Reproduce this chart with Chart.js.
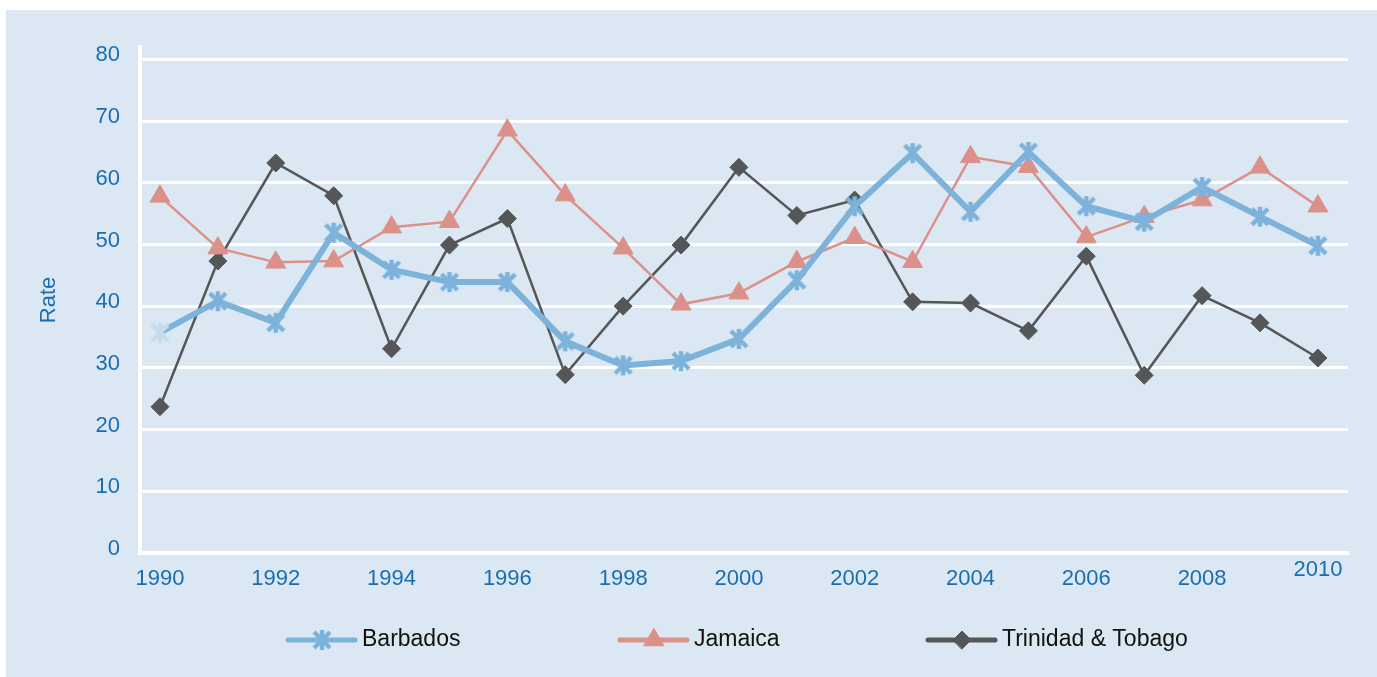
<!DOCTYPE html>
<html>
<head>
<meta charset="utf-8">
<script src="https://cdn.jsdelivr.net/npm/chart.js@4.4.1/dist/chart.umd.min.js"></script>
<style>
    html, body { margin: 0; padding: 0; background: #ffffff; }
    #panel { position: absolute; left: 6px; top: 10px; width: 1371px; height: 667px; background: #dbe8f3; }
</style>
</head>
<body>
<div id="panel"><canvas id="rates"></canvas></div>
<script>
// valeurs
const years = [1990, 1991, 1992, 1993, 1994, 1995, 1996, 1997, 1998, 1999, 2000,
               2001, 2002, 2003, 2004, 2005, 2006, 2007, 2008, 2009, 2010];
const barbados = [35.7, 40.8, 37.3, 51.9, 45.9, 43.9, 43.9, 34.3, 30.4, 31.1, 34.7,
                  44.2, 56.2, 64.8, 55.3, 65.0, 56.2, 53.7, 59.3, 54.5, 49.8];
const jamaica = [57.8, 49.4, 47.1, 47.3, 52.8, 53.7, 68.5, 58.0, 49.4, 40.3, 42.1,
                 47.2, 51.1, 47.2, 64.2, 62.6, 51.2, 54.5, 57.2, 62.5, 56.2];
const trinidad = [23.7, 47.3, 63.2, 57.9, 33.1, 49.9, 54.2, 28.9, 40.0, 49.9, 62.5,
                  54.7, 57.2, 40.7, 40.5, 36.0, 48.1, 28.8, 41.7, 37.3, 31.6];
const yearTicks = [1990, 1992, 1994, 1996, 1998, 2000, 2002, 2004, 2006, 2008, 2010];
const yTicks = [0, 10, 20, 30, 40, 50, 60, 70, 80];

const blueText = '#1a6db3';
const fontFamily = '"Liberation Sans", Arial, sans-serif';

function points(values) {
    return years.map((yr, i) => ({ x: yr, y: values[i] }));
}

// astérisque façon Excel : un X et un trait vertical
function asterisk(color) {
    const c = document.createElement('canvas');
    c.width = 24; c.height = 24;
    const g = c.getContext('2d');
    g.strokeStyle = color;
    g.lineWidth = 4.5;
    g.beginPath();
    g.moveTo(12, 2); g.lineTo(12, 22);
    g.moveTo(4, 4); g.lineTo(20, 20);
    g.moveTo(20, 4); g.lineTo(4, 20);
    g.stroke();
    return c;
}
const starMain = asterisk('#7db3da');
const starPale = asterisk('#c4dcee');

// légende dessinée sous le graphique (trait + marqueur), et le "2010" surélevé
const legendBelow = {
    id: 'legendBelow',
    afterDraw(chart) {
        const ctx = chart.ctx;
        const starts = [282, 614, 922];
        const y = 630;
        chart.data.datasets.forEach((ds, i) => {
            const x = starts[i];
            ctx.save();
            ctx.strokeStyle = ds.borderColor;
            ctx.fillStyle = ds.borderColor;
            ctx.lineWidth = 5;
            ctx.lineCap = 'round';
            ctx.beginPath();
            ctx.moveTo(x, y);
            ctx.lineTo(x + 67, y);
            ctx.stroke();
            ctx.lineWidth = ds.pointBorderWidth;
            const style = Array.isArray(ds.pointStyle) ? ds.pointStyle[1] : ds.pointStyle;
            Chart.helpers.drawPoint(ctx, {
                pointStyle: style,
                radius: ds.pointRadius,
                borderWidth: ds.pointBorderWidth,
                rotation: 0
            }, x + 34, y);
            ctx.fillStyle = '#111111';
            ctx.font = '23px ' + fontFamily;
            ctx.textBaseline = 'middle';
            ctx.textAlign = 'left';
            ctx.fillText(ds.label, x + 74, y);
            ctx.restore();
        });
        // le dernier libellé de l'axe est plus haut sur l'original
        const xs = chart.scales.x;
        ctx.save();
        ctx.fillStyle = blueText;
        ctx.font = '22px ' + fontFamily;
        ctx.textAlign = 'center';
        ctx.textBaseline = 'middle';
        ctx.fillText(String(years[years.length - 1]), xs.getPixelForValue(years[years.length - 1]), 560);
        ctx.restore();
    }
};

document.addEventListener('DOMContentLoaded', () => {
    const ctx = document.getElementById('rates').getContext('2d');
    new Chart(ctx, {
        type: 'line',
        data: {
            datasets: [{
                label: 'Barbados',
                data: points(barbados),
                borderColor: '#7db3da',
                backgroundColor: '#7db3da',
                borderWidth: 6,
                pointStyle: years.map((yr, i) => i === 0 ? starPale : starMain),
                pointRadius: 10,
                pointBorderWidth: 4,
                tension: 0
            }, {
                label: 'Jamaica',
                data: points(jamaica),
                borderColor: '#db9189',
                backgroundColor: '#db9189',
                borderWidth: 2.5,
                pointStyle: 'triangle',
                pointRadius: 11.5,
                pointBorderWidth: 1,
                tension: 0
            }, {
                label: 'Trinidad & Tobago',
                data: points(trinidad),
                borderColor: '#555657',
                backgroundColor: '#555657',
                borderWidth: 2.5,
                pointStyle: 'rectRot',
                pointRadius: 9,
                pointBorderWidth: 1,
                tension: 0
            }]
        },
        options: {
            responsive: true,
            maintainAspectRatio: false,
            animation: false,
            layout: { padding: { left: 10, right: 29, top: 37, bottom: 0 } },
            plugins: {
                legend: { display: false },
                tooltip: { enabled: false }
            },
            scales: {
                x: {
                    type: 'linear',
                    min: 1989.655,
                    max: 2010.52,
                    afterBuildTicks: (scale) => {
                        scale.ticks = yearTicks.map(v => ({ value: v }));
                    },
                    afterFit: (scale) => { scale.height = 124; },
                    grid: { display: false, drawTicks: false },
                    border: { display: true, color: '#ffffff', width: 4 },
                    ticks: {
                        color: blueText,
                        font: { family: fontFamily, size: 22 },
                        padding: 13,
                        maxRotation: 0,
                        autoSkip: false,
                        callback: (v) => v === 2010 ? '' : String(v)
                    }
                },
                y: {
                    min: 0,
                    max: 82,
                    afterBuildTicks: (scale) => {
                        scale.ticks = yTicks.map(v => ({ value: v }));
                    },
                    afterFit: (scale) => { scale.width = 124; },
                    grid: { color: '#ffffff', lineWidth: 3, drawTicks: false },
                    border: { display: true, color: '#ffffff', width: 4 },
                    ticks: {
                        color: blueText,
                        font: { family: fontFamily, size: 22 },
                        padding: 20,
                        labelOffset: -4
                    },
                    title: {
                        display: true,
                        text: 'Rate',
                        color: blueText,
                        font: { family: fontFamily, size: 22 },
                        padding: { top: 20, bottom: 0 }
                    }
                }
            }
        },
        plugins: [legendBelow]
    });
});
</script>
</body>
</html>
